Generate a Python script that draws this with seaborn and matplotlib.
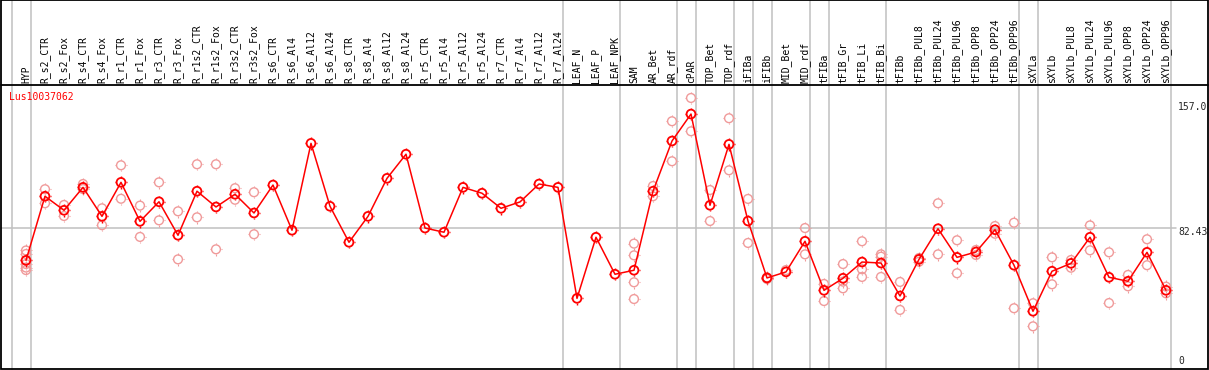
import matplotlib
matplotlib.use('Agg')
import matplotlib.pyplot as plt
from matplotlib.path import Path
import numpy as np
import pandas as pd
import seaborn as sns

gene = 'Lus10037062'

samples = ['HYP', 'R_s2_CTR', 'R_s2_Fox', 'R_s4_CTR', 'R_s4_Fox', 'R_r1_CTR', 'R_r1_Fox',
           'R_r3_CTR', 'R_r3_Fox', 'R_r1s2_CTR', 'R_r1s2_Fox', 'R_r3s2_CTR', 'R_r3s2_Fox',
           'R_s6_CTR', 'R_s6_Al4', 'R_s6_Al12', 'R_s6_Al24', 'R_s8_CTR', 'R_s8_Al4',
           'R_s8_Al12', 'R_s8_Al24', 'R_r5_CTR', 'R_r5_Al4', 'R_r5_Al12', 'R_r5_Al24',
           'R_r7_CTR', 'R_r7_Al4', 'R_r7_Al12', 'R_r7_Al24', 'LEAF_N', 'LEAF_P', 'LEAF_NPK',
           'SAM', 'AR_Bet', 'AR_rdf', 'cPAR', 'TOP_Bet', 'TOP_rdf', 'iFIBa', 'iFIBb',
           'MID_Bet', 'MID_rdf', 'tFIBa', 'tFIB_Gr', 'tFIB_Li', 'tFIB_Bi', 'tFIBb',
           'tFIBb_PUL8', 'tFIBb_PUL24', 'tFIBb_PUL96', 'tFIBb_OPP8', 'tFIBb_OPP24',
           'tFIBb_OPP96', 'sXYLa', 'sXYLb', 'sXYLb_PUL8', 'sXYLb_PUL24', 'sXYLb_PUL96',
           'sXYLb_OPP8', 'sXYLb_OPP24', 'sXYLb_OPP96']

mean_expr = [63.1, 101.4, 93.0, 106.7, 89.4, 109.7, 86.4, 98.1, 78.1, 104.4, 95.0, 102.6, 91.4,
             108.1, 81.1, 133.0, 95.4, 73.9, 89.4, 112.1, 126.5, 82.4, 79.9, 106.7, 103.2,
             94.2, 98.0, 108.7, 106.7, 40.4, 76.9, 54.8,
             57.2, 104.4, 134.4, 150.5, 96.0, 132.4, 86.6, 52.6, 56.2, 74.5, 45.2, 52.4,
             62.1, 61.5, 41.8, 63.7, 82.0, 64.9, 68.1, 81.4, 60.2, 32.7, 56.6, 61.3, 76.9,
             53.0, 50.6, 67.9, 45.2]

replicates = [[69.0, 66.9, 60.9, 58.8, 57.3], [105.6, 97.2], [96.2, 89.6], [108.7, 105.7],
              [94.2, 84.1], [119.9, 99.9], [95.8, 77.1], [109.7, 87.0], [92.4, 63.7],
              [120.5, 88.8], [120.5, 69.7], [106.2, 99.3], [103.8, 78.7],
              [], [], [], [], [], [], [], [], [], [], [], [], [], [], [], [], [], [], [],
              [73.1, 66.1, 50.0, 40.0], [107.5, 101.4], [146.2, 122.3], [160.1, 140.2],
              [105.1, 86.6], [148.0, 116.9], [99.8, 73.5], [52.9, 52.0], [57.3],
              [82.4, 66.7], [49.0, 38.8], [60.9, 50.4, 46.4], [74.5, 57.8, 53.2],
              [66.7, 65.3, 53.2], [50.2, 33.5], [62.3, 64.5], [97.2, 66.7], [75.1, 55.4],
              [69.3, 66.3], [83.6, 79.0], [85.6, 34.5], [37.5, 23.7], [64.9, 48.8],
              [63.3, 58.7], [84.0, 69.1], [67.9, 37.6], [54.4, 47.6], [75.7, 60.2],
              [47.4, 43.4]]

# last sample index of each group (separator drawn just right of it)
group_ends = [-1, 0, 28, 31, 34, 35, 37, 38, 39, 41, 42, 45, 52, 53, 60]

y_max = 157.0
y_mid = 82.43

df = pd.DataFrame({'pos': np.arange(len(samples)), 'expr': mean_expr})
rep_df = pd.DataFrame([(i, v) for i, reps in enumerate(replicates) for v in reps],
                      columns=['pos', 'expr'])

# pixel -> data helpers for layout (column pitch 19 px, first column at 26 px)
W, H = 1209, 370
col0, pitch = 26, 19
y0_px, scale = 366, 138 / y_mid


def px_x(p):
    return (p - col0) / pitch


def px_y(p):
    return (y0_px - p) / scale


# four small ticks sticking out of the circle
ticks = Path([(0, 0.78), (0, 1), (0, -0.78), (0, -1), (0.78, 0), (1, 0), (-0.78, 0), (-1, 0)],
             [Path.MOVETO, Path.LINETO] * 4)

sns.set_style('white')
plt.rcParams['font.family'] = ['DejaVu Sans Mono', 'DejaVu Sans']

fig = plt.figure(figsize=(W / 100, H / 100), dpi=100)
ax = fig.add_axes([0, 0, 1, 1])

for g in group_ends:
    ax.axvline(g + 0.24, color='#c0c0c0', lw=1.1, zorder=1)
ax.plot([px_x(1.5), px_x(1176)], [y_mid, y_mid], color='#c0c0c0', lw=1.1, zorder=1)
ax.plot([px_x(1.5), px_x(1207.5)], [px_y(85), px_y(85)], color='black', lw=1.3, zorder=2)
ax.add_patch(plt.Rectangle((px_x(1.5), px_y(368.5)), px_x(1207.5) - px_x(1.5),
                           px_y(0.5) - px_y(368.5), fill=False, ec='black', lw=1.3, zorder=3))

for d, col, lw, z in [(rep_df, '#f09a9a', 1.0, 4), (df, 'red', 1.3, 6)]:
    sns.scatterplot(data=d, x='pos', y='expr', marker='o', s=40, facecolors='none',
                    edgecolor=col, linewidth=lw, ax=ax, zorder=z, legend=False)
    sns.scatterplot(data=d, x='pos', y='expr', marker=ticks, s=80, facecolors='none',
                    edgecolor=col, linewidth=lw * 0.8, ax=ax, zorder=z, legend=False)
sns.lineplot(data=df, x='pos', y='expr', color='red', lw=1.1, ax=ax, zorder=5)

ax.set_xlim(px_x(0), px_x(W))
ax.set_ylim(px_y(H), px_y(0))
ax.axis('off')

for i, name in enumerate(samples):
    ax.text(i, px_y(83), name, rotation=90, ha='center', va='bottom', fontsize=7, color='black')

ax.text(px_x(9.5), px_y(91.5), gene, ha='left', va='top', fontsize=7, color='red')
ax.text(px_x(1178), px_y(102), f'{y_max:.1f}', ha='left', va='top', fontsize=7)
ax.text(px_x(1178), px_y(227), f'{y_mid:.2f}', ha='left', va='top', fontsize=7)
ax.text(px_x(1178), px_y(366.5), '0', ha='left', va='bottom', fontsize=7)

plt.savefig('out.png', dpi=100)
plt.close()
